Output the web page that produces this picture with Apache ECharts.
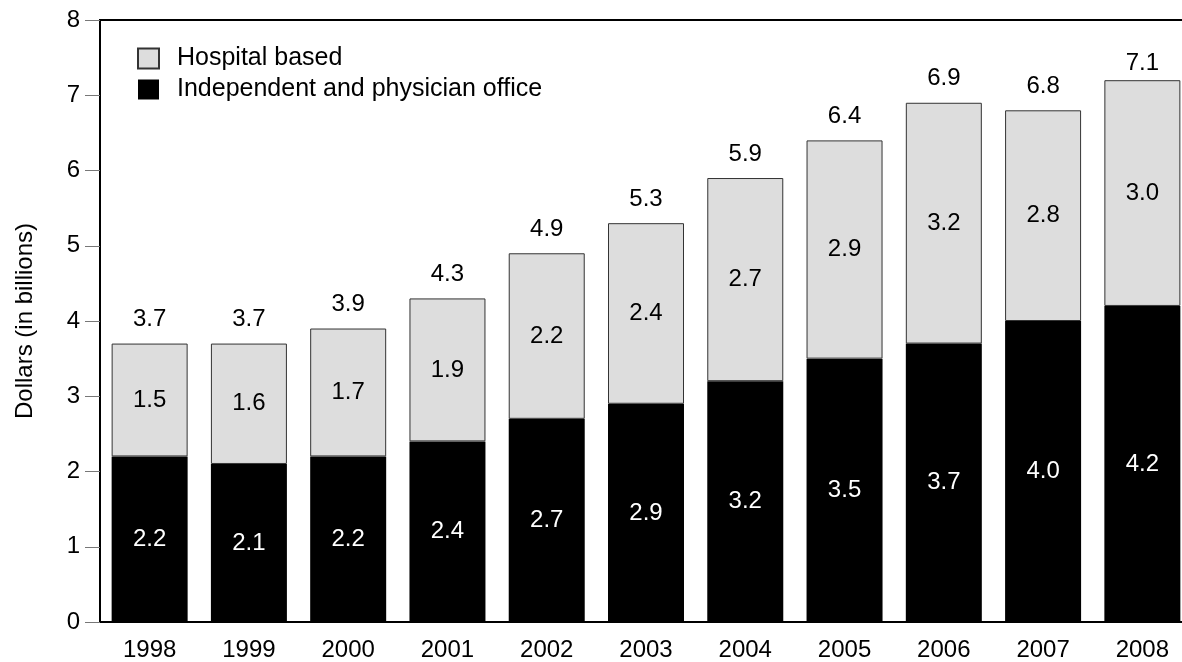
<!DOCTYPE html>
<html>
<head>
<meta charset="utf-8">
<script src="https://cdn.jsdelivr.net/npm/echarts@6/dist/echarts.min.js"></script>
<style>
  html, body { margin: 0; padding: 0; overflow: hidden; background: #fff; }
  #chart { width: 1192px; height: 662px; }
</style>
</head>
<body>
<div id="chart"></div>
<script>
const years = ['1998', '1999', '2000', '2001', '2002', '2003', '2004', '2005', '2006', '2007', '2008']
const independent = [2.2, 2.1, 2.2, 2.4, 2.7, 2.9, 3.2, 3.5, 3.7, 4.0, 4.2]
const hospital = [1.5, 1.6, 1.7, 1.9, 2.2, 2.4, 2.7, 2.9, 3.2, 2.8, 3.0]
const totals = [3.7, 3.7, 3.9, 4.3, 4.9, 5.3, 5.9, 6.4, 6.9, 6.8, 7.1]
const yTicks = [0, 1, 2, 3, 4, 5, 6, 7, 8]

const font = 'Liberation Sans, Arial, sans-serif'
const fs = 24

const chart = echarts.init(document.getElementById('chart'), null, { renderer: 'canvas' })

chart.setOption({
  backgroundColor: '#fff',
  animation: false,
  textStyle: { fontFamily: font },
  legend: {
    orient: 'vertical',
    left: 137,
    top: 46,
    padding: 0,
    itemWidth: 21,
    itemHeight: 20,
    itemGap: 6,
    icon: 'rect',
    data: ['Hospital based', 'Independent and physician office'],
    textStyle: { fontSize: 25, color: '#000', fontFamily: font, padding: [0, 0, 0, 13] },
  },
  grid: {
    left: 100,
    right: 0,
    top: 20,
    bottom: 40,
    show: true,
    borderColor: '#000',
    borderWidth: 2,
    backgroundColor: 'transparent',
  },
  xAxis: {
    type: 'category',
    data: years,
    axisLine: { lineStyle: { color: '#000', width: 2 } },
    axisTick: { length: 14, lineStyle: { color: '#777', width: 1 } },
    axisLabel: { color: '#000', fontSize: fs, fontFamily: font, margin: 16 },
  },
  yAxis: {
    type: 'value',
    min: yTicks[0],
    max: yTicks[yTicks.length - 1],
    interval: 1,
    name: 'Dollars (in billions)',
    nameLocation: 'middle',
    nameGap: 63,
    nameTextStyle: { color: '#000', fontSize: fs, fontFamily: font },
    axisLine: { show: true, lineStyle: { color: '#000', width: 2 } },
    axisTick: { show: true, length: 15, lineStyle: { color: '#777', width: 1 } },
    axisLabel: { color: '#000', fontSize: fs, fontFamily: font, margin: 20 },
    splitLine: { show: false },
  },
  series: [
    {
      name: 'Independent and physician office',
      type: 'bar',
      stack: 'total',
      barWidth: 76,
      data: independent,
      itemStyle: { color: '#000' },
      label: {
        show: true,
        position: 'inside',
        color: '#fff',
        fontSize: fs,
        fontFamily: font,
        formatter: p => p.value.toFixed(1),
      },
    },
    {
      name: 'Hospital based',
      type: 'bar',
      stack: 'total',
      barWidth: 76,
      data: hospital,
      itemStyle: { color: '#dddddd', borderColor: '#333', borderWidth: 1 },
      label: {
        show: true,
        position: 'inside',
        color: '#000',
        fontSize: fs,
        fontFamily: font,
        formatter: p => p.value.toFixed(1),
      },
    },
    {
      // totals are placed at their own value (2008 reads 7.1 above a 7.2 stack)
      name: 'total',
      type: 'scatter',
      data: totals,
      symbolSize: 0,
      itemStyle: { color: '#000', opacity: 1 },
      label: {
        show: true,
        position: 'top',
        distance: 12,
        color: '#000',
        opacity: 1,
        fontSize: fs,
        fontFamily: font,
        formatter: p => p.value.toFixed(1),
      },
    },
  ],
})
</script>
</body>
</html>
